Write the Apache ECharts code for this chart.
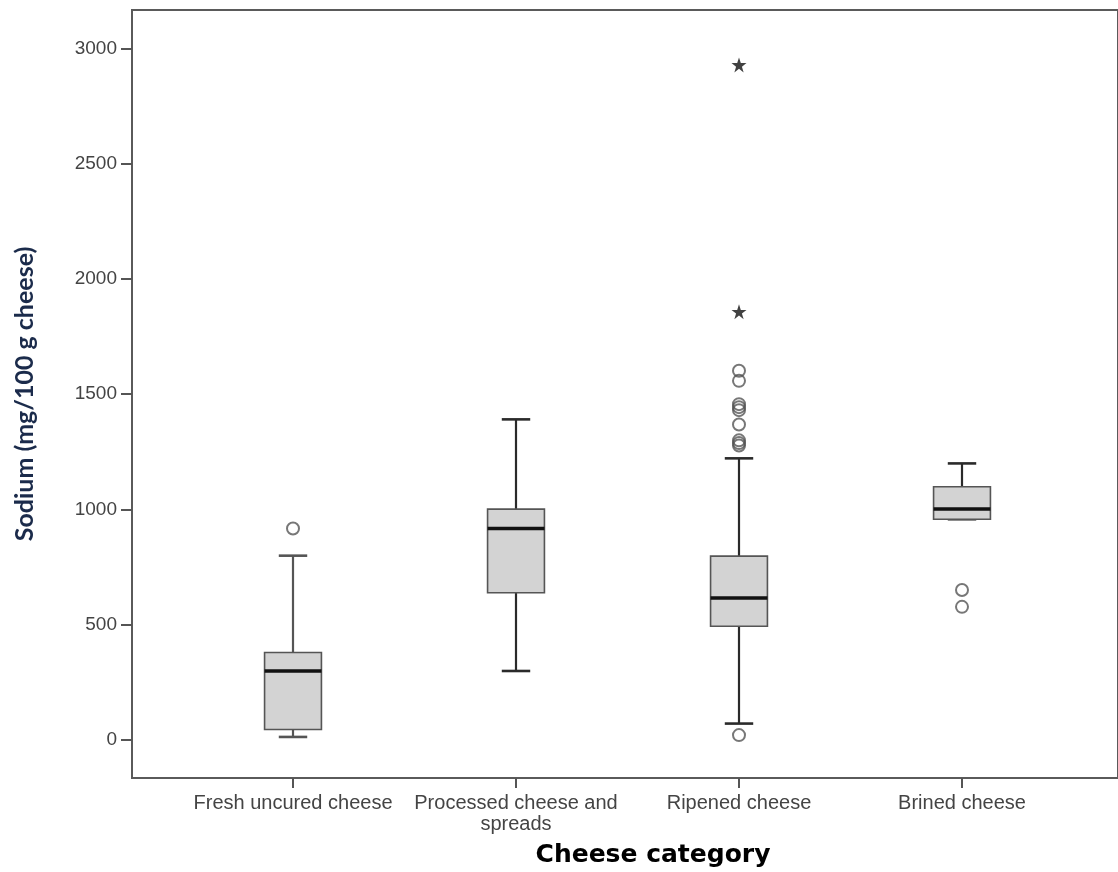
<!DOCTYPE html>
<html><head><meta charset="utf-8">
<script src="https://cdn.jsdelivr.net/npm/echarts@6/dist/echarts.min.js"></script>
<style>html,body{margin:0;padding:0;background:#fff}#c{width:1118px;height:872px}</style>
</head><body><div id="c"></div>
<script>
const categories = ['Fresh uncured cheese', 'Processed cheese and\nspreads', 'Ripened cheese', 'Brined cheese'];
const lowWhisker = [14, 300, 72, 958];
const q1 = [46, 639, 494, 958];
const median = [300, 918, 617, 1002];
const q3 = [380, 1002, 798, 1099];
const highWhisker = [800, 1391, 1222, 1200];
const outlierCategory = [0, 2, 2, 2, 2, 2, 2, 2, 2, 2, 2, 3, 3];
const outlierValue = [918, 1602, 1558, 1457, 1444, 1431, 1369, 1300, 1288, 1278, 22, 651, 578];
const extremeCategory = [2, 2];
const extremeValue = [2928, 1858];
const yTicks = [0, 500, 1000, 1500, 2000, 2500, 3000];
const yMin = -164, yMax = 3166;

const boxData = categories.map((c, i) => [i, lowWhisker[i], q1[i], median[i], q3[i], highWhisker[i]]);
const outlierData = outlierCategory.map((c, i) => [c, outlierValue[i]]);
const extremeData = extremeCategory.map((c, i) => [c, extremeValue[i]]);

const chart = echarts.init(document.getElementById('c'));
const labelFont = 'Liberation Sans';
chart.setOption({
  animation: false,
  backgroundColor: '#fff',
  title: {
    text: 'Cheese category', left: 648, top: 838, textAlign: 'center',
    textStyle: { fontFamily: 'DejaVu Sans', fontWeight: 'bold', fontSize: 25, color: '#000' }
  },
  grid: [
    { left: 132, top: 10, bottom: 94, right: -30, show: true, borderColor: '#5a5a5a', borderWidth: 2, backgroundColor: 'transparent' },
    { left: 181.5, top: 10, bottom: 94, width: 892 }
  ],
  xAxis: [
    { gridIndex: 0, type: 'value', min: 0, max: 1, show: false },
    {
      gridIndex: 1, type: 'category', data: categories, boundaryGap: true,
      axisLine: { show: false, onZero: false },
      axisTick: { show: true, alignWithLabel: true, interval: 0, length: 10, lineStyle: { color: '#555', width: 2 } },
      axisLabel: { interval: 0, margin: 15, fontFamily: labelFont, fontSize: 20, color: '#444', lineHeight: 21 }
    }
  ],
  yAxis: [
    {
      gridIndex: 0, type: 'value', min: yMin, max: yMax,
      name: 'Sodium (mg/100 g cheese)', nameLocation: 'middle', nameRotate: 90, nameGap: 95,
      nameTextStyle: { fontFamily: 'Lato', fontSize: 25, fontWeight: 'bold', color: '#1b2b4b' },
      axisLine: { show: true, lineStyle: { color: '#5a5a5a', width: 2 } },
      axisTick: { show: true, length: 11, customValues: yTicks, lineStyle: { color: '#555', width: 2 } },
      axisLabel: { customValues: yTicks, margin: 15, formatter: v => String(v), fontFamily: labelFont, fontSize: 19, color: '#444' },
      splitLine: { show: false }
    },
    { gridIndex: 1, type: 'value', min: yMin, max: yMax, show: false, splitLine: { show: false } }
  ],
  series: [
    {
      type: 'custom', xAxisIndex: 1, yAxisIndex: 1,
      encode: { x: 0, y: [1, 2, 3, 4, 5] },
      data: boxData,
      renderItem: function (params, api) {
        const i = api.value(0);
        const pLow = api.coord([i, api.value(1)]);
        const pQ1 = api.coord([i, api.value(2)]);
        const pMed = api.coord([i, api.value(3)]);
        const pQ3 = api.coord([i, api.value(4)]);
        const pHigh = api.coord([i, api.value(5)]);
        const band = api.size([1, 0])[0];
        const boxW = band * 0.255;
        const capW = boxW / 2;
        const cx = pMed[0];
        const wc = params.dataIndex === 0 ? '#555' : '#2a2a2a';
        const ws = { stroke: wc, lineWidth: 2.2 };
        return {
          type: 'group',
          children: [
            { type: 'line', shape: { x1: cx, y1: pQ3[1], x2: cx, y2: pHigh[1] }, style: ws },
            { type: 'line', shape: { x1: cx, y1: pQ1[1], x2: cx, y2: pLow[1] }, style: ws },
            { type: 'line', shape: { x1: cx - capW / 2, y1: pHigh[1], x2: cx + capW / 2, y2: pHigh[1] }, style: { stroke: wc, lineWidth: 2.6 } },
            { type: 'line', shape: { x1: cx - capW / 2, y1: pLow[1], x2: cx + capW / 2, y2: pLow[1] }, style: { stroke: wc, lineWidth: 2.6 } },
            { type: 'rect', shape: { x: cx - boxW / 2, y: pQ3[1], width: boxW, height: pQ1[1] - pQ3[1] }, style: { fill: '#d3d3d3', stroke: '#555', lineWidth: 1.6 } },
            { type: 'line', shape: { x1: cx - boxW / 2, y1: pMed[1], x2: cx + boxW / 2, y2: pMed[1] }, style: { stroke: '#111', lineWidth: 3.5 } }
          ]
        };
      }
    },
    {
      type: 'scatter', xAxisIndex: 1, yAxisIndex: 1, data: outlierData,
      symbol: 'circle', symbolSize: 12,
      itemStyle: { color: 'rgba(255,255,255,0)', borderColor: '#555', borderWidth: 2 }
    },
    {
      type: 'scatter', xAxisIndex: 1, yAxisIndex: 1, data: extremeData,
      symbol: 'path://M50,0 L61.8,35.4 L99,35.4 L69.1,57.3 L80.3,92.7 L50,70.8 L19.7,92.7 L30.9,57.3 L1,35.4 L38.2,35.4 Z',
      symbolSize: 15,
      itemStyle: { color: '#111' }
    }
  ]
});
</script>
</body></html>
